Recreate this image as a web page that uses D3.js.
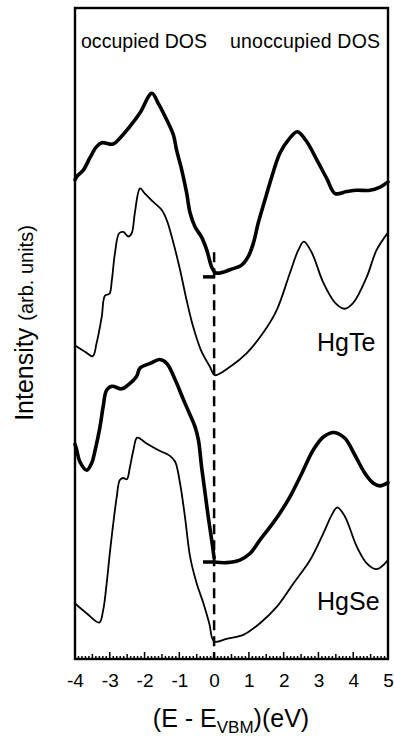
<!DOCTYPE html>
<html><head><meta charset="utf-8">
<script src="https://cdn.jsdelivr.net/npm/d3@7"></script>
<style>html,body{margin:0;padding:0;background:#fff}svg{display:block}text{font-family:"Liberation Sans",Arial,sans-serif;fill:#000}</style>
</head><body><svg id="c" width="394" height="736"></svg>
<script>
// Energy (eV) relative to VBM; intensity in arbitrary units (offset stacked)
const hgteExpE = [-4.0,-3.95,-3.76,-3.57,-3.38,-3.23,-2.90,-2.71,-2.42,-2.13,-1.79,-1.61,-1.36,-1.17,-1.08,-0.93,-0.79,-0.69,-0.55,-0.36,-0.21,-0.07,0.03];
const hgteExpI = [73.6,74.1,75.1,77.0,78.7,79.3,79.1,80.0,81.8,83.9,86.9,85.4,82.8,80.5,78.2,75.1,71.6,68.5,66.4,64.8,62.8,60.2,59.3];
const hgteExpUE = [0.03,0.17,0.46,0.79,0.98,1.13,1.27,1.46,1.66,1.89,2.13,2.39,2.66,2.95,3.24,3.48,3.81,4.10,4.48,4.77,5.0];
const hgteExpUI = [59.3,59.3,59.8,60.5,61.8,63.9,67.0,70.5,74.1,77.7,79.7,81.0,79.5,76.7,73.8,71.5,71.8,72.0,72.0,72.5,73.3];

const hgteThE = [-4.0,-3.95,-3.71,-3.49,-3.38,-3.23,-3.14,-3.01,-2.94,-2.85,-2.73,-2.61,-2.47,-2.37,-2.28,-2.13,-1.99,-1.79,-1.51,-1.36,-1.17,-0.98,-0.79,-0.60,-0.36,-0.12,0.02,0.46,0.94,1.41,1.80,2.18,2.42,2.58,2.81,3.14,3.48,3.75,4.00,4.39,4.67,5.0];
const hgteThI = [48.2,48.0,47.2,46.5,48.5,52.6,55.8,56.1,58.2,62.4,65.4,65.6,64.9,65.4,68.5,72.3,71.5,70.4,69.0,67.4,63.9,59.8,55.1,51.0,47.2,44.9,43.6,44.9,47.0,50.1,53.6,59.3,62.8,64.1,62.4,57.8,54.7,53.8,54.7,58.7,62.8,65.5];

const hgseExpE = [-4.0,-3.95,-3.86,-3.66,-3.52,-3.42,-3.28,-3.19,-3.09,-2.94,-2.66,-2.47,-2.23,-2.13,-1.84,-1.56,-1.36,-1.12,-0.84,-0.55,-0.45,-0.36,-0.26,-0.17,-0.07,0.0];
const hgseExpI = [33.0,32.1,30.3,29.0,30.1,32.1,35.7,38.8,41.3,41.9,41.5,42.1,43.4,44.7,45.4,46.0,45.4,42.9,39.3,35.7,33.6,29.5,25.5,21.9,18.3,15.5];
const hgseExpUE = [0.0,0.36,0.74,1.03,1.32,1.61,1.89,2.18,2.52,2.85,3.14,3.45,3.76,4.05,4.34,4.58,4.77,5.0];
const hgseExpUI = [14.9,14.8,15.2,16.2,18.3,20.3,22.4,24.9,28.5,32.1,34.1,34.8,33.9,31.3,28.5,27.0,26.6,27.1];

const hgseThE = [-4.0,-3.95,-3.66,-3.30,-3.19,-3.09,-2.99,-2.90,-2.80,-2.71,-2.61,-2.51,-2.42,-2.32,-2.21,-1.94,-1.61,-1.27,-1.12,-0.98,-0.84,-0.69,-0.50,-0.31,-0.14,0.0,0.36,0.84,1.32,1.80,2.28,2.76,3.14,3.38,3.54,3.76,4.10,4.39,4.67,5.0];
const hgseThI = [8.6,8.3,7.0,5.6,7.5,11.6,16.7,20.8,24.9,27.5,27.8,27.6,29.5,32.1,34.0,33.1,32.1,31.2,30.3,27.0,21.9,15.7,11.6,8.6,5.5,2.7,3.1,3.7,5.5,8.0,11.6,15.2,19.3,22.1,23.3,21.9,17.3,14.7,13.8,15.2];

const vbmMarkE = [-0.32, 0.02];
const vbmMarkI = [58.7, 14.9];
const vbmLineTop = 62.5;

const xTicks = [-4,-3,-2,-1,0,1,2,3,4,5];
const sampleLabels = ["HgTe","HgSe"];
const sampleLabelI = [47.3, 7.5];
const regionLabels = ["occupied DOS","unoccupied DOS"];

const svg = d3.select("#c");
const L=75, R=388, T=8, B=659;
const x = d3.scaleLinear().domain([-4,5]).range([L,R]);
const y = d3.scaleLinear().domain([0,100]).range([B,T]);

const zip = (a,b)=>a.map((v,i)=>[v,b[i]]);
const line = d3.line().x(d=>x(d[0])).y(d=>y(d[1])).curve(d3.curveCatmullRom.alpha(0.5));

// dashed VBM line
svg.append("line").attr("x1",x(0)).attr("x2",x(0)).attr("y1",y(vbmLineTop)).attr("y2",y(0))
  .attr("stroke","#000").attr("stroke-width",2.5).attr("stroke-dasharray","10,6");

// theory curves
[[hgteThE,hgteThI],[hgseThE,hgseThI]].forEach(([e,i])=>{
  svg.append("path").attr("d",line(zip(e,i))).attr("fill","none").attr("stroke","#000").attr("stroke-width",1.8);
});
// experimental curves
[[hgteExpE,hgteExpI],[hgteExpUE,hgteExpUI],[hgseExpE,hgseExpI],[hgseExpUE,hgseExpUI]].forEach(([e,i])=>{
  svg.append("path").attr("d",line(zip(e,i))).attr("fill","none").attr("stroke","#000").attr("stroke-width",3.6).attr("stroke-linejoin","round").attr("stroke-linecap","round");
});
// VBM markers
vbmMarkI.forEach(v=>{
  svg.append("line").attr("x1",x(vbmMarkE[0])).attr("x2",x(vbmMarkE[1])).attr("y1",y(v)).attr("y2",y(v))
    .attr("stroke","#000").attr("stroke-width",3.5);
});

// frame
svg.append("rect").attr("x",L).attr("y",T).attr("width",R-L).attr("height",B-T)
  .attr("fill","none").attr("stroke","#000").attr("stroke-width",2.4);

// bottom axis ticks (inward)
const minor = d3.range(-40,51).map(v=>v/10);
svg.append("g").selectAll("line").data(minor).join("line")
  .attr("x1",d=>x(d)).attr("x2",d=>x(d)).attr("y1",B)
  .attr("y2",d=>{const r=Math.round(d*10); return B-(r%10===0?7:(Math.abs(r%10)===5?5:3));})
  .attr("stroke","#000").attr("stroke-width",1.5);
const ax = d3.axisBottom(x).tickValues(xTicks).tickSize(0).tickPadding(0).tickFormat(d3.format("d"));
const g = svg.append("g").attr("transform",`translate(0,${B})`).call(ax);
g.select(".domain").remove();
g.selectAll("text").attr("font-size",19).attr("font-family","Liberation Sans, Arial, sans-serif").attr("dy",0).attr("y",28).text(d=>d<0?"-"+Math.abs(d):d);

// axis title
const xt = svg.append("text").attr("x",231).attr("y",727).attr("text-anchor","middle").attr("font-size",25);
xt.append("tspan").text("(E - E");
xt.append("tspan").attr("font-size",17).attr("dy",6).text("VBM");
xt.append("tspan").attr("dy",-6).text(")(eV)");

const yt = svg.append("text").attr("transform","translate(33,323) rotate(-90)").attr("text-anchor","middle");
yt.append("tspan").attr("font-size",25).text("Intensity ");
yt.append("tspan").attr("font-size",20).text("(arb. units)");

// region labels
svg.append("text").attr("x",81).attr("y",48).attr("font-size",19.5).attr("textLength",126).text(regionLabels[0]);
svg.append("text").attr("x",230).attr("y",48).attr("font-size",19.5).attr("textLength",150).text(regionLabels[1]);

// sample labels
sampleLabels.forEach((s,i)=>{
  svg.append("text").attr("x",317).attr("y",y(sampleLabelI[i])).attr("font-size",25).text(s);
});
</script></body></html>
